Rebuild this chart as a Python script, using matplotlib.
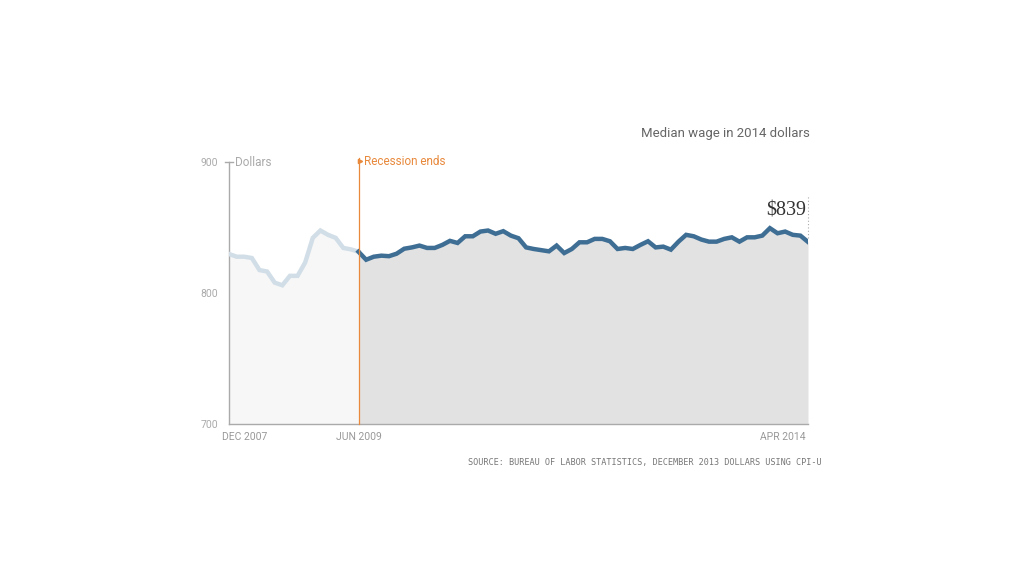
import matplotlib
matplotlib.use("Agg")
import matplotlib.pyplot as plt
import numpy as np
from matplotlib.transforms import ScaledTranslation

# Monthly median weekly wage (2014 dollars), Dec 2007 .. Apr 2014
pre_recession_end = [829.8, 827.7, 827.7, 826.7, 817.5, 816.4, 807.9, 805.9, 813.1,
                     813.1, 823.3, 842.1, 847.7, 844.4, 842.1, 834.4, 833.3]
post_recession = [831.5, 825.4, 827.7, 828.5, 828.1, 830.0, 833.8, 834.8, 836.2, 834.4,
                  834.4, 836.7, 839.8, 838.2, 843.3, 843.3, 846.9, 847.7, 845.2, 847.2,
                  843.8, 841.8, 834.8, 833.6, 832.7, 831.8, 836.2, 830.5, 833.6, 838.7,
                  838.7, 841.3, 841.3, 839.5, 833.6, 834.4, 833.6, 836.7, 839.5, 834.8,
                  835.4, 833.1, 839.2, 844.4, 843.3, 840.8, 839.2, 839.2, 841.3, 842.5,
                  839.2, 842.5, 842.5, 843.8, 849.5, 845.6, 846.9, 844.4, 843.8, 839.0]
x_labels = ["DEC 2007", "JUN 2009", "APR 2014"]
y_ticks = [700, 800, 900]
last_label = "$839"

values = pre_recession_end + post_recession
x = np.arange(len(values))
split = len(pre_recession_end)  # index where recession ends
x_pre = x[:split + 1]
y_pre = values[:split + 1]
x_post = x[split:]
y_post = values[split:]

W, H = 1024, 576
fig = plt.figure(figsize=(W / 100, H / 100), dpi=100)
ax = fig.add_axes([229 / W, 1 - 424 / H, (808 - 229) / W, (424 - 162) / H])

ax.fill_between(x_pre, 700, y_pre, color="#f7f7f7", lw=0, zorder=1)
ax.fill_between(x_post, 700, y_post, color="#e2e2e2", lw=0, zorder=1)
ax.plot(x_pre, y_pre, color="#d2dee7", lw=3.2, solid_joinstyle="miter", zorder=3)
ax.plot(x_post, y_post, color="#3f6e94", lw=3.2, solid_joinstyle="miter", zorder=4)

ax.set_xlim(0, len(values) - 1)
ax.set_ylim(700, 900)

for s in ["top", "right"]:
    ax.spines[s].set_visible(False)
for s in ["left", "bottom"]:
    ax.spines[s].set_color("#aaaaaa")
    ax.spines[s].set_linewidth(1)

label_font = ["Liberation Sans Narrow", "Roboto", "DejaVu Sans"]

ax.set_yticks(y_ticks)
ax.set_yticklabels([str(v) for v in y_ticks], color="#aaaaaa", fontsize=7.5, family=label_font)
ax.tick_params(axis="y", length=0, pad=8)
ax.set_xticks([0, split, len(values) - 1])
ax.set_xticklabels(x_labels, color="#999999", fontsize=7.5, family=label_font)
ax.tick_params(axis="x", length=0, pad=6)
xt = ax.get_xticklabels()
xt[0].set_ha("left")
xt[0].set_transform(xt[0].get_transform() + ScaledTranslation(-0.07, 0, fig.dpi_scale_trans))
xt[2].set_ha("right")
xt[2].set_transform(xt[2].get_transform() + ScaledTranslation(-0.02, 0, fig.dpi_scale_trans))

# small tick mark at 900
ax.plot([-0.5, 0.5], [900, 900], color="#aaaaaa", lw=1, clip_on=False, zorder=5)
ax.text(0.8, 900, "Dollars", color="#aaaaaa", fontsize=8.5, va="center", ha="left",
        family=label_font)

# recession line
ax.plot([split, split], [700, 903], color="#e8893c", lw=0.9, clip_on=False, zorder=5)
ax.plot([split + 0.2], [900.5], marker=">", color="#e8893c", ms=3, clip_on=False, zorder=5)
ax.text(split + 0.75, 900.5, "Recession ends", color="#e8893c", fontsize=8.5,
        va="center", ha="left", family=label_font)

# last value annotation
ax.plot([len(values) - 1] * 2, [values[-1] + 3, 875], color="#aaaaaa", lw=0.8,
        ls=(0, (1, 2)), clip_on=False, zorder=5)
ax.text(len(values) - 1.3, 862.5, last_label, color="#333333", fontsize=14.5,
        family=["Liberation Serif", "DejaVu Serif"], ha="right", va="center")

fig.text(810 / W, 1 - 133 / H, "Median wage in 2014 dollars", color="#666666",
         fontsize=9.5, ha="right", va="center", family=label_font)
fig.text(822 / W, 1 - 462 / H,
         "SOURCE: BUREAU OF LABOR STATISTICS, DECEMBER 2013 DOLLARS USING CPI-U",
         color="#777777", fontsize=6.1, ha="right", va="center", family="DejaVu Sans Mono")

fig.savefig("out.png", dpi=100, facecolor="white")
